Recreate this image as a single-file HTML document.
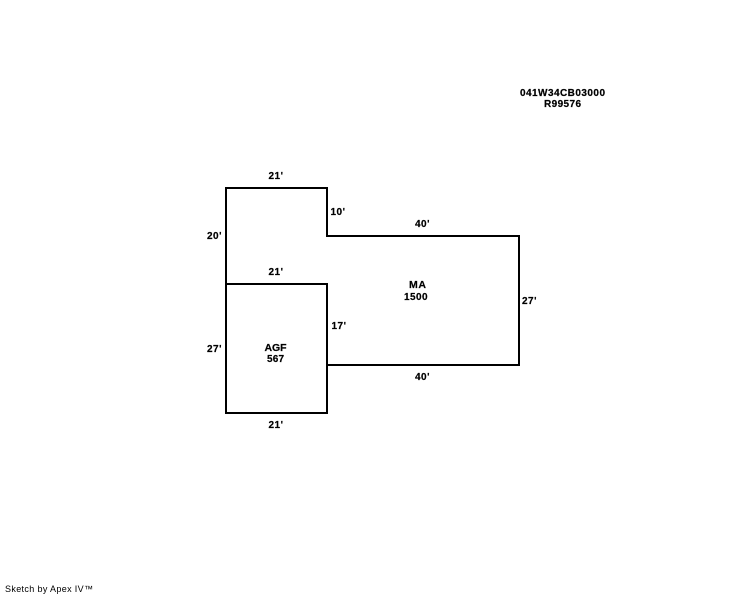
<!DOCTYPE html>
<html><head><meta charset="utf-8"><style>
html,body{margin:0;padding:0;background:#fff;width:744px;height:595px;overflow:hidden}
svg{display:block}
text{font-family:"Liberation Sans",sans-serif;font-size:10px;font-weight:bold;fill:#000;stroke:#000;stroke-width:.2}
</style></head><body>
<svg width="744" height="595" viewBox="0 0 744 595" xmlns="http://www.w3.org/2000/svg">
<g fill="none" stroke="#000" stroke-width="2" shape-rendering="crispEdges">
<path d="M226 284V188H327V236H519V365H327"/>
<path d="M226 284H327V413H226Z"/>
</g>
<text x="520" y="96" textLength="85" lengthAdjust="spacing">041W34CB03000</text>
<text x="544" y="107" textLength="37" lengthAdjust="spacing">R99576</text>
<text x="268.5" y="179" textLength="14.5">21'</text>
<text x="330.5" y="215" textLength="14.5">10'</text>
<text x="207" y="239" textLength="14.5">20'</text>
<text x="415" y="227" textLength="14.5">40'</text>
<text x="268.5" y="275" textLength="14.5">21'</text>
<text x="409" y="288" textLength="17" style="font-size:10.5px">MA</text>
<text x="404" y="300" textLength="23.5">1500</text>
<text x="522" y="304" textLength="14.5">27'</text>
<text x="331.5" y="329" textLength="14.5">17'</text>
<text x="207" y="352" textLength="14.5">27'</text>
<text x="264.5" y="351" textLength="22" style="font-size:10.5px">AGF</text>
<text x="267" y="362" textLength="17">567</text>
<text x="415" y="380" textLength="14.5">40'</text>
<text x="268.5" y="428" textLength="14.5">21'</text>
<text x="5" y="592" textLength="88" style="font-size:9px;font-weight:normal;stroke:none">Sketch by Apex IV™</text>
</svg>
</body></html>
